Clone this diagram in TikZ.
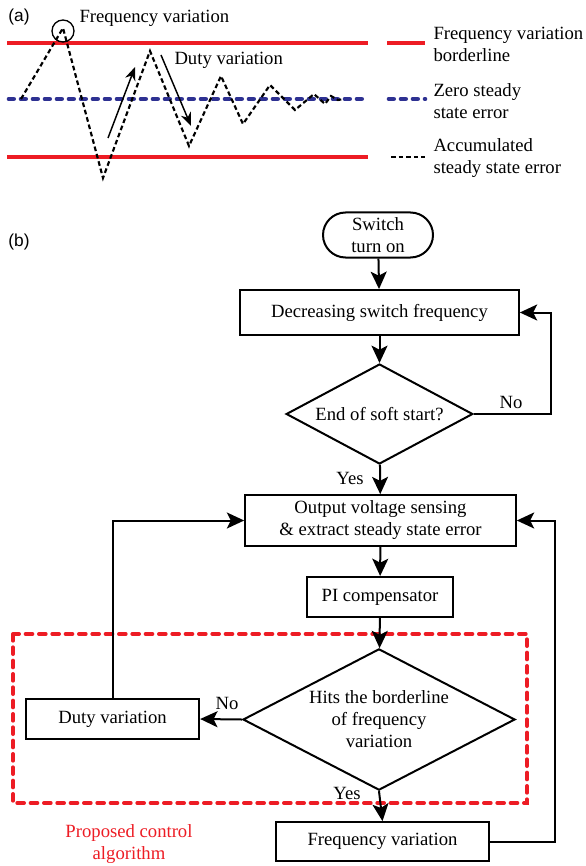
\documentclass[tikz,border=0pt]{standalone}
\usepackage{fontspec}
\setmainfont{Liberation Serif}
\newfontfamily\panelfont{Liberation Sans}
\usetikzlibrary{shapes.geometric,shapes.misc,arrows.meta}

\definecolor{bordred}{RGB}{237,28,36}
\definecolor{zeroblue}{RGB}{46,49,146}

\tikzset{every picture/.style={line width=0.75pt}}
\tikzset{
  txt/.style={font=\fontsize{14}{16.5}\selectfont, inner sep=0pt, align=center},
  panel/.style={font=\panelfont\fontsize{13}{15}\selectfont, inner sep=0pt},
  procbox/.style={draw, line width=1.5pt, rectangle, txt},
  termbox/.style={draw, line width=1.5pt, rounded rectangle, txt},
  decision/.style={draw, line width=1.5pt, diamond, txt},
  flow/.style={line width=1.5pt, -{Stealth[length=13pt,width=12pt,inset=3pt]}},
  flowline/.style={line width=1.5pt},
  borderline/.style={line width=3.5pt, bordred},
  zeroline/.style={line width=3.5pt, zeroblue, line cap=round, dash pattern=on 3.5pt off 5.5pt},
  errline/.style={line width=1.6pt, dash pattern=on 3.5pt off 2.2pt},
  thinarrow/.style={line width=1.1pt, -{Stealth[length=10pt,width=8pt]}},
  regionbox/.style={line width=3pt, bordred, line cap=round, dash pattern=on 5pt off 5pt}
}

\begin{document}
\begin{tikzpicture}[x=0.75pt,y=0.75pt,yscale=-1,xscale=1]
\useasboundingbox (0,0) rectangle (585,866);

%%%%%%%% (a) %%%%%%%%
\node[panel] (pa) at (19,17) {(a)};
%Straight Lines: borderlines
\draw [borderline] (7,43) -- (368,43) ;
\draw [borderline] (7,157) -- (368,157) ;
\draw [borderline] (387,43) -- (425,43) ;
%Straight Lines: zero error
\draw [zeroline] (9,99) -- (368,99) ;
\draw [zeroline] (389,99) -- (425,99) ;
%Curve Lines: accumulated error
\draw [errline] (21,99) -- (63,28) -- (103,178) -- (150,51) -- (189,146) -- (221,76) -- (243,124) -- (270,85) -- (295,110) -- (314,94) -- (325,104) -- (331,96) -- (338,100) -- (344,99) ;
\draw [errline] (391,157) -- (425,157) ;
%Shape: Circle
\draw [line width=1pt] (63,31) circle (11) ;
%Straight Lines: duty arrows
\draw [thinarrow] (108,138) -- (135,67) ;
\draw [thinarrow] (161,55) -- (191,126) ;

% Text Node
\node[txt, anchor=west] (fvtop) at (79,18) {Frequency variation};
% Text Node
\node[txt, anchor=west] (dvtop) at (174,60) {Duty variation};
% Text Node
\node[txt, anchor=west, align=left] (lgbord) at (433,44) {Frequency variation\\borderline};
% Text Node
\node[txt, anchor=west, align=left] (lgzero) at (433,101) {Zero steady\\state error};
% Text Node
\node[txt, anchor=west, align=left] (lgerr) at (433,158) {Accumulated\\steady state error};

%%%%%%%% (b) %%%%%%%%
\node[panel] (pb) at (19,242) {(b)};

%Shape: Rectangle [red dashed region]
\draw [regionbox] (13,634) rectangle (527,803) ;

\node[termbox, minimum width=82.5pt, minimum height=33.75pt] (start) at (378,235) {Switch\\turn on};
\node[procbox, minimum width=209pt, minimum height=33.75pt] (decfreq) at (379.5,312.5) {Decreasing switch frequency};
\node[decision, aspect=1.87, minimum width=140pt, minimum height=75pt] (softend) at (379.5,414) {End of soft start?};
\node[procbox, minimum width=203pt, minimum height=38pt] (sense) at (380.5,520.5) {Output voltage sensing\\\& extract steady state error};
\node[procbox, minimum width=109.5pt, minimum height=30pt] (picomp) at (380,597) {PI compensator};
\node[decision, aspect=1.92, minimum width=204pt, minimum height=106pt] (hits) at (379,719.5) {Hits the borderline\\of frequency\\variation};
\node[procbox, minimum width=130pt, minimum height=30pt] (duty) at (112.5,719) {Duty variation};
\node[procbox, minimum width=160pt, minimum height=29pt] (freq) at (382.5,841.5) {Frequency variation};

\coordinate (noback) at (551,0);
\coordinate (freqback) at (555,0);

%Straight Lines: flow
\draw [flow] (start) -- (decfreq) ;
\draw [flow] (decfreq) -- (softend) ;
\draw [flow] (softend.east) -- (softend.east -| noback) |- (decfreq.east) ;
\draw [flow] (softend) -- (sense) ;
\draw [flow] (sense) -- (picomp) ;
\draw [flow] (picomp) -- (hits) ;
\draw [flow] (hits.west) -- (duty.east) ;
\draw [flow] (duty.north) |- (sense.west) ;
\draw [flow] (hits.south) -- (freq.north) ;
\draw [flow] (freq.east) -- (freq.east -| freqback) |- (sense.east) ;

% Text Node
\node[txt] (lbno1) at (511,402) {No};
% Text Node
\node[txt] (lbyes1) at (350,478) {Yes};
% Text Node
\node[txt] (lbno2) at (227,703) {No};
% Text Node
\node[txt] (lbyes2) at (347,793) {Yes};
% Text Node
\node[txt, text=bordred] (propalg) at (129,844) {Proposed control\\algorithm};

\end{tikzpicture}
\end{document}
